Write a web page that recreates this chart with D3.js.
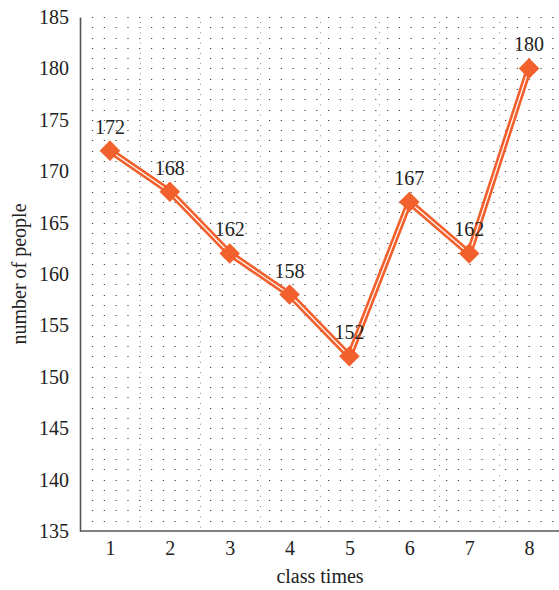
<!DOCTYPE html>
<html>
<head>
<meta charset="utf-8">
<script src="https://cdn.jsdelivr.net/npm/d3@7"></script>
<style>
  html, body { margin: 0; padding: 0; background: #fff; }
  svg { display: block; }
</style>
</head>
<body>
<script>
// Attendance per class session
const classTimes = [1, 2, 3, 4, 5, 6, 7, 8];
const people = [172, 168, 162, 158, 152, 167, 162, 180];
const yTicks = [135, 140, 145, 150, 155, 160, 165, 170, 175, 180, 185];
const xTitle = "class times";
const yTitle = "number of people";

const W = 559, H = 590;
const margin = { top: 17, right: 0, bottom: 59, left: 80 };
const lineColor = "#f2602d";
const fontSize = "20px";
const fontFamily = "'Liberation Serif', 'DejaVu Serif', serif";

const svg = d3.select("body").append("svg").attr("width", W).attr("height", H);

const x = d3.scalePoint()
  .domain(classTimes)
  .range([margin.left, W - margin.right])
  .padding(0.5);

const y = d3.scaleLinear()
  .domain([135, 185])
  .range([H - margin.bottom, margin.top]);

const step = x.step();

// dotted grid: horizontal rows every unit, vertical lines between sessions
const grid = svg.append("g");
grid.selectAll("line.h")
  .data(d3.range(136, 186))
  .join("line")
  .attr("x1", margin.left + 12)
  .attr("x2", W - margin.right)
  .attr("y1", d => Math.round(y(d)) + 0.5)
  .attr("y2", d => Math.round(y(d)) + 0.5)
  .attr("stroke", "#444")
  .attr("stroke-width", 1)
  .attr("stroke-dasharray", "1.2,10.6");

grid.selectAll("line.v")
  .data(classTimes.slice(0, -1))
  .join("line")
  .attr("x1", d => Math.round(x(d) + step / 2) + 0.5)
  .attr("x2", d => Math.round(x(d) + step / 2) + 0.5)
  .attr("y1", y(185) + 5)
  .attr("y2", y(135) - 2)
  .attr("stroke", "#888")
  .attr("stroke-width", 1)
  .attr("stroke-dasharray", "1,9.3");

// axes
const yAxis = svg.append("g")
  .attr("transform", `translate(${margin.left},0)`)
  .call(d3.axisLeft(y).tickValues(yTicks).tickSize(0).tickPadding(11));
yAxis.attr("font-family", null).attr("font-size", null);
yAxis.select(".domain").attr("stroke", "#555").attr("stroke-width", 1.6);

const xAxis = svg.append("g")
  .attr("transform", `translate(0,${H - margin.bottom})`)
  .call(d3.axisBottom(x).tickSize(0).tickPadding(10));
xAxis.attr("font-family", null).attr("font-size", null);
xAxis.select(".domain").attr("stroke", "#555").attr("stroke-width", 1.6)
  .attr("d", `M${margin.left},0H${W}`);

// axis titles
svg.append("text")
  .attr("x", 320)
  .attr("y", 583)
  .attr("text-anchor", "middle")
  .text(xTitle);

svg.append("text")
  .attr("transform", `translate(26,${(y(135) + y(185)) / 2}) rotate(-90)`)
  .attr("text-anchor", "middle")
  .text(yTitle);

// series: thick orange line with a thin white core
const line = d3.line().x((d, i) => x(classTimes[i])).y(d => y(d));
svg.append("path")
  .datum(people)
  .attr("d", line)
  .attr("fill", "none")
  .attr("stroke", lineColor)
  .attr("stroke-width", 6.5)
  .attr("stroke-linejoin", "miter");
svg.append("path")
  .datum(people)
  .attr("d", line)
  .attr("fill", "none")
  .attr("stroke", "#fff")
  .attr("stroke-width", 1.2)
  .attr("stroke-linejoin", "miter");

// diamond markers
const diamond = d3.symbol().type(d3.symbolDiamond2).size(270);
svg.append("g").selectAll("path")
  .data(people)
  .join("path")
  .attr("transform", (d, i) => `translate(${x(classTimes[i])},${y(d)})`)
  .attr("d", diamond)
  .attr("fill", lineColor);

// value labels
svg.append("g").selectAll("text")
  .data(people)
  .join("text")
  .attr("x", (d, i) => x(classTimes[i]))
  .attr("y", d => y(d) - 17)
  .attr("text-anchor", "middle")
  .text(d => d);

// shared text style
svg.selectAll("text")
  .style("font-family", fontFamily)
  .style("font-size", fontSize)
  .attr("fill", "#222");
</script>
</body>
</html>
